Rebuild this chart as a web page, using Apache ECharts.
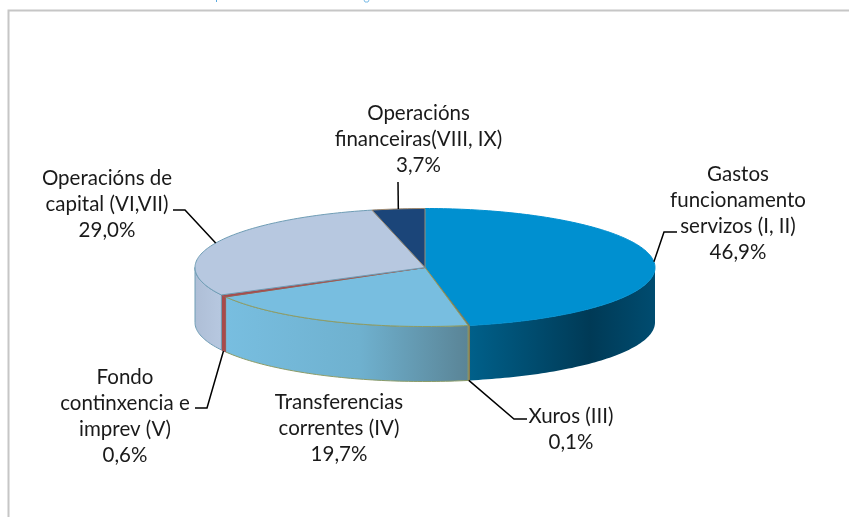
<!DOCTYPE html>
<html>
<head>
<meta charset="utf-8">
<style>
html, body { margin: 0; padding: 0; background: #fff; }
#pie { width: 849px; height: 517px; }
</style>
<script src="https://cdn.jsdelivr.net/npm/echarts@6/dist/echarts.min.js"></script>
</head>
<body>
<div id="pie"></div>
<script>
var categories = [
    'Gastos\nfuncionamento\nservizos (I, II)',
    'Xuros (III)',
    'Transferencias\ncorrentes (IV)',
    'Fondo\ncontinxencia e\nimprev (V)',
    'Operacións de\ncapital (VI,VII)',
    'Operacións\nfinanceiras(VIII, IX)'
];
var values = [46.9, 0.1, 19.7, 0.6, 29.0, 3.7];

// geometria do disco
var cx = 425, cy = 267.5, rx = 230, ry = 59, depth = 55;
var total = values.reduce(function (a, b) { return a + b; }, 0);

// aparencia por porción
var topColors = ['#0090d0', '#2f6f8f', '#78bee0', '#a84a4a', '#b7c8e0', '#1b4579'];
var edgeColors = ['#0090d0', '#8a7a50', '#8c9c68', '#9a5a5a', '#6f9db5', '#a08a70'];
var wallStops = [
    [[0, '#00608a'], [0.65, '#003a56'], [1, '#004c70']],
    [[0, '#7d7448'], [1, '#7d7448']],
    [[0, '#78bee0'], [0.55, '#6fb1cf'], [1, '#5a8496']],
    [[0, '#a84a4a'], [1, '#a84a4a']],
    [[0, '#aebed6'], [1, '#b7c8e0']],
    [[0, '#1b4579'], [1, '#1b4579']]
];
// posicións das etiquetas: centro do bloque, esquina da liña guía, e se a guía sae da parede
var labelPos = [[738, 213.5], [571, 429], [339, 428.5], [125, 416.5], [107, 204.5], [418.5, 139.5]];
var elbows = [
    [[664, 232], [677, 232]],
    [[514, 419], [527, 419]],
    null,
    [[207, 408], [195, 408]],
    [[185, 210], [173, 210]],
    [[398, 182]]
];
var fromWall = [false, true, false, true, false, false];

function angleOf(v) {
    return echarts.number.linearMap(v, [0, total], [0, 2 * Math.PI]);
}
function pointAt(a, dy) {
    return [cx + rx * Math.sin(a), cy - ry * Math.cos(a) + (dy || 0)];
}
function arcPoints(a0, a1, dy) {
    var n = Math.max(1, Math.ceil((a1 - a0) / 0.02)), pts = [];
    for (var i = 0; i <= n; i++) {
        pts.push(pointAt(a0 + (a1 - a0) * i / n, dy));
    }
    return pts;
}

function renderSlice(params, api) {
    var i = params.dataIndex;
    var before = 0;
    for (var k = 0; k < i; k++) before += values[k];
    var a0 = angleOf(before), a1 = angleOf(before + api.value(0));
    var children = [];

    // parede frontal (só a parte de 90 a 270 graos se ve)
    var w0 = Math.max(a0, Math.PI / 2), w1 = Math.min(a1, Math.PI * 3 / 2);
    if (w1 > w0) {
        var upper = arcPoints(w0, w1);
        var lower = arcPoints(w0, w1, depth).reverse();
        var stops = wallStops[i].map(function (s) { return { offset: s[0], color: s[1] }; });
        children.push({
            type: 'polygon',
            z2: 1,
            shape: { points: upper.concat(lower) },
            style: {
                fill: new echarts.graphic.LinearGradient(0, 0, 1, 0, stops),
                stroke: edgeColors[i],
                lineWidth: i === 0 ? 0 : 1
            }
        });
    }

    // cara superior
    children.push({
        type: 'polygon',
        z2: 2,
        shape: { points: [[cx, cy]].concat(arcPoints(a0, a1)) },
        style: { fill: topColors[i], stroke: edgeColors[i], lineWidth: 1 }
    });

    // liña guía e etiqueta
    var mid = (a0 + a1) / 2;
    var anchor = pointAt(mid, fromWall[i] ? depth : 0);
    if (elbows[i]) {
        children.push({
            type: 'polyline',
            z2: 3,
            shape: { points: [anchor].concat(elbows[i]) },
            style: { fill: null, stroke: '#000', lineWidth: 1.5 }
        });
    }
    children.push({
        type: 'text',
        z2: 4,
        style: {
            x: labelPos[i][0],
            y: labelPos[i][1],
            text: categories[i] + '\n' + api.value(0).toFixed(1).replace('.', ',') + '%',
            align: 'center',
            verticalAlign: 'middle',
            fontFamily: 'Lato',
            fontSize: 20.5,
            lineHeight: 26,
            fill: '#1a1a1a'
        }
    });
    return { type: 'group', children: children };
}

var myChart = echarts.init(document.getElementById('pie'));
var option = {
    animation: false,
    backgroundColor: '#fff',
    graphic: [{
        type: 'polyline',
        silent: true,
        shape: { points: [[8.5, 517], [8.5, 10.5], [849, 10.5]] },
        style: { fill: null, stroke: '#c6c6c6', lineWidth: 2 }
    }, {
        // restos da liña de texto cortada arriba
        type: 'polyline',
        silent: true,
        shape: { points: [[216.5, 0], [216.5, 2]] },
        style: { fill: null, stroke: '#5aa9df', lineWidth: 1 }
    }, {
        type: 'polyline',
        silent: true,
        shape: { points: [[364, 0], [365, 2], [368, 2], [369, 0]] },
        style: { fill: null, stroke: '#7dbce6', lineWidth: 1 }
    }],
    series: [{
        type: 'custom',
        coordinateSystem: 'none',
        renderItem: renderSlice,
        data: values.map(function (v, i) { return { name: categories[i], value: [v] }; })
    }]
};
myChart.setOption(option);
</script>
</body>
</html>
